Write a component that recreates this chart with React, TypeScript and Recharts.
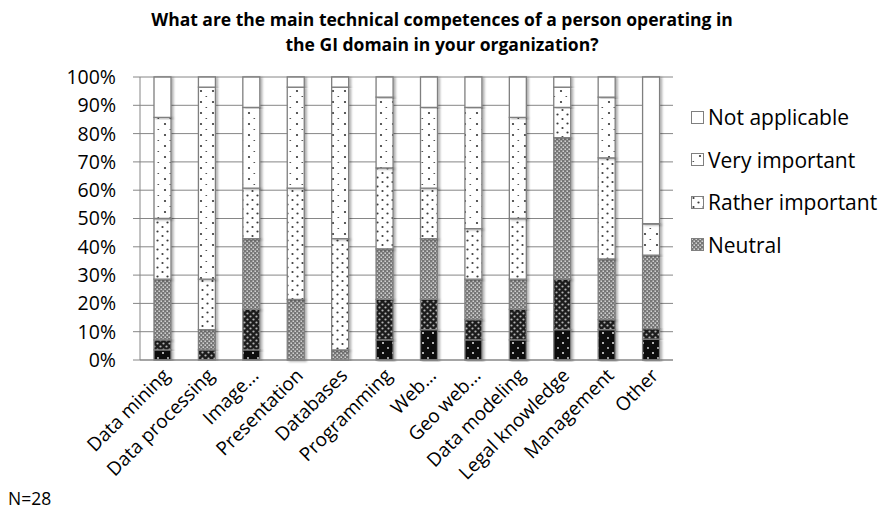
import React from 'react'
import { Bar, BarChart, CartesianGrid, XAxis, YAxis } from 'recharts'

const categories = [
  'Data mining',
  'Data processing',
  'Image...',
  'Presentation',
  'Databases',
  'Programming',
  'Web...',
  'Geo web...',
  'Data modeling',
  'Legal knowledge',
  'Management',
  'Other',
]

// answer counts per category (N=28)
const notImportant = [1, 0, 1, 0, 0, 2, 3, 2, 2, 3, 3, 2]
const ratherNotImportant = [1, 1, 4, 0, 0, 4, 3, 2, 3, 5, 1, 1]
const neutral = [6, 2, 7, 6, 1, 5, 6, 4, 3, 14, 6, 7]
const ratherImportant = [6, 5, 5, 11, 11, 8, 5, 5, 6, 3, 10, 0]
const veryImportant = [10, 19, 8, 10, 15, 7, 8, 12, 10, 2, 6, 3]
const notApplicable = [4, 1, 3, 1, 1, 2, 3, 3, 4, 1, 2, 14]

const yTicks = [0, 0.1, 0.2, 0.3, 0.4, 0.5, 0.6, 0.7, 0.8, 0.9, 1]

const series = [
  { key: 'notImportant', name: 'Not important', values: notImportant, pattern: 'pNotImp' },
  { key: 'ratherNotImportant', name: 'Rather not important', values: ratherNotImportant, pattern: 'pRatherNot' },
  { key: 'neutral', name: 'Neutral', values: neutral, pattern: 'pNeutral' },
  { key: 'ratherImportant', name: 'Rather important', values: ratherImportant, pattern: 'pRatherImp' },
  { key: 'veryImportant', name: 'Very important', values: veryImportant, pattern: 'pVeryImp' },
  { key: 'notApplicable', name: 'Not applicable', values: notApplicable, pattern: 'pNA' },
]

// legend only shows the top four (rest is cut off in the original)
const legendKeys = ['notApplicable', 'veryImportant', 'ratherImportant', 'neutral']

const data = categories.map((name, i) => {
  const row: any = { name }
  series.forEach(s => (row[s.key] = s.values[i]))
  return row
})

const FONT = '"Open Sans", sans-serif'
const GRID = '#868686'
const EDGE = '#7f7f7f'

function Patterns() {
  return (
    <defs>
      <filter id="barShadow" x="-30%" y="-5%" width="160%" height="110%">
        <feDropShadow dx="2" dy="1" stdDeviation="1.2" floodColor="#000" floodOpacity="0.3" />
      </filter>
      <pattern id="pNotImp" width="10" height="10" patternUnits="userSpaceOnUse">
        <rect width="10" height="10" fill="#0d0d0d" />
        <circle cx="3" cy="3" r="0.9" fill="#fff" />
        <circle cx="8" cy="8" r="0.9" fill="#ddd" />
      </pattern>
      <pattern id="pRatherNot" width="6" height="6" patternUnits="userSpaceOnUse">
        <rect width="6" height="6" fill="#1c1c1c" />
        <circle cx="1.5" cy="1.5" r="1.1" fill="#b5b5b5" />
        <circle cx="4.5" cy="4.5" r="1.1" fill="#b5b5b5" />
      </pattern>
      <pattern id="pNeutral" width="4" height="4" patternUnits="userSpaceOnUse">
        <rect width="4" height="4" fill="#767676" />
        <rect x="0.5" y="0.5" width="1.4" height="1.4" fill="#e6e6e6" />
        <rect x="2.5" y="2.5" width="1.4" height="1.4" fill="#e6e6e6" />
      </pattern>
      <pattern id="pRatherImp" width="10" height="9" patternUnits="userSpaceOnUse">
        <rect width="10" height="9" fill="#fff" />
        <circle cx="2.5" cy="2" r="1.1" fill="#3a3a3a" />
        <circle cx="7.5" cy="6.5" r="1.1" fill="#3a3a3a" />
      </pattern>
      <pattern id="pVeryImp" width="12" height="11" patternUnits="userSpaceOnUse">
        <rect width="12" height="11" fill="#fff" />
        <circle cx="9" cy="3" r="1.1" fill="#333" />
        <rect x="1.5" y="8" width="1.6" height="0.9" fill="#444" />
      </pattern>
      <pattern id="pNA" width="4" height="4" patternUnits="userSpaceOnUse">
        <rect width="4" height="4" fill="#fff" />
      </pattern>
    </defs>
  )
}

function CategoryTick({ x, y, payload }: any) {
  const ax = x + 4
  const ay = y + 12
  return (
    <text
      x={ax}
      y={ay}
      transform={`rotate(-45, ${ax}, ${ay})`}
      textAnchor="end"
      dy="0.35em"
      fontSize={19}
      fontFamily={FONT}
      fill="#000"
    >
      {payload.value}
    </text>
  )
}

export default function App() {
  return (
    <div style={{ position: 'absolute', left: 0, top: 0, width: 884, height: 513, background: '#fff', fontFamily: FONT }}>
      <div
        style={{
          position: 'absolute',
          left: 0,
          top: 7,
          width: 884,
          textAlign: 'center',
          fontWeight: 700,
          fontSize: 17.5,
          lineHeight: '25px',
          color: '#000',
        }}
      >
        What are the main technical competences of a person operating in
        <br />
        the GI domain in your organization?
      </div>

      <BarChart
        width={884}
        height={513}
        data={data}
        stackOffset="expand"
        barSize={17}
        margin={{ top: 77, right: 211, bottom: 33, left: 0 }}
      >
        <Patterns />
        <CartesianGrid vertical={false} stroke={GRID} strokeWidth={1} />
        <XAxis
          dataKey="name"
          interval={0}
          height={120}
          tickLine={false}
          tickSize={0}
          tickMargin={0}
          axisLine={{ stroke: GRID }}
          tick={<CategoryTick />}
        />
        <YAxis
          width={140}
          domain={[0, 1]}
          ticks={yTicks}
          tickFormatter={(v: number) => `${Math.round(v * 100)}%`}
          axisLine={{ stroke: GRID }}
          tickLine={{ stroke: GRID }}
          tickSize={7}
          tickMargin={17}
          tick={{ fontSize: 19.5, fontFamily: FONT, fill: '#000' }}
        />
        {series.map(s => (
          <Bar
            key={s.key}
            dataKey={s.key}
            name={s.name}
            stackId="a"
            fill={`url(#${s.pattern})`}
            stroke={EDGE}
            strokeWidth={1.3}
            style={{ filter: 'url(#barShadow)' }}
            isAnimationActive={false}
          />
        ))}
      </BarChart>

      <div style={{ position: 'absolute', left: 691, top: 96 }}>
        {legendKeys.map(k => {
          const s = series.find(x => x.key === k)!
          return (
            <div key={k} style={{ display: 'flex', alignItems: 'center', height: 42.5, fontSize: 21, color: '#000', whiteSpace: 'nowrap' }}>
              <svg width={13} height={13} style={{ marginRight: 4 }}>
                <rect x={0.5} y={0.5} width={12} height={12} fill={`url(#${s.pattern})`} stroke={EDGE} strokeWidth={1} />
              </svg>
              {s.name}
            </div>
          )
        })}
      </div>

      <div style={{ position: 'absolute', left: 8, top: 486, fontSize: 17.5, color: '#000' }}>N=28</div>
    </div>
  )
}
